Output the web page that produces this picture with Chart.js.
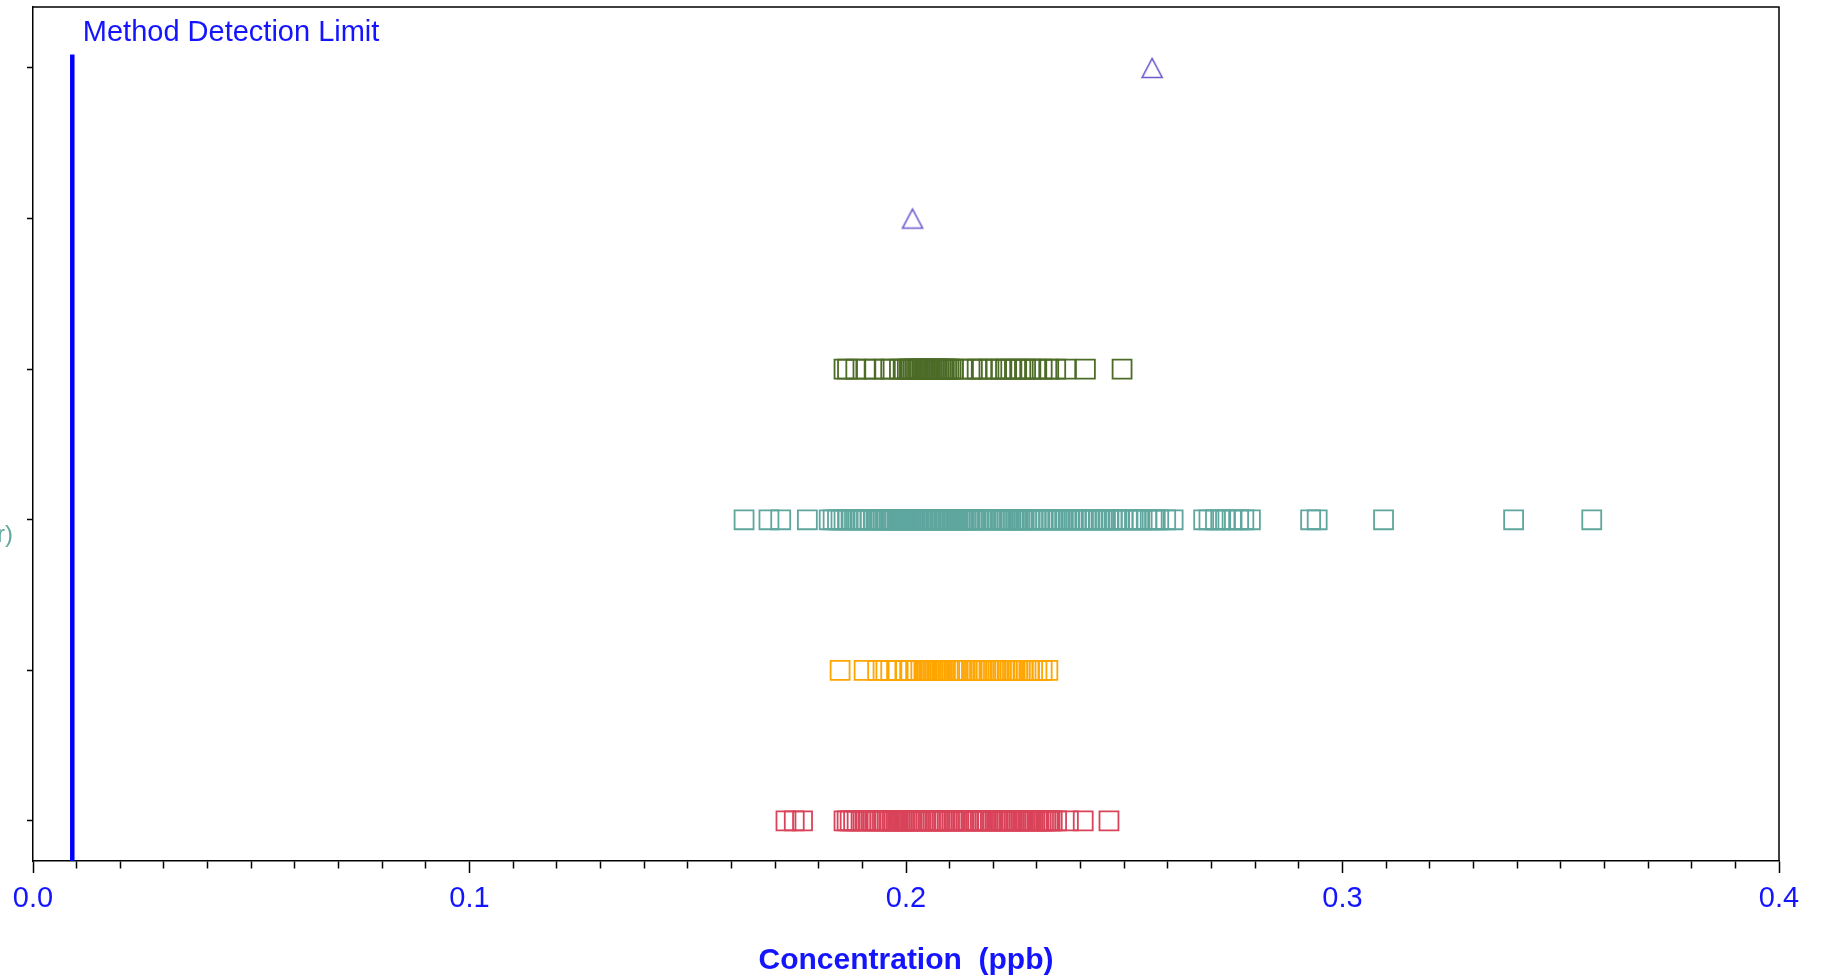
<!DOCTYPE html>
<html>
<head>
<meta charset="utf-8">
<script src="https://cdn.jsdelivr.net/npm/chart.js@4.4.1/dist/chart.umd.min.js"></script>
<style>
html,body{margin:0;padding:0;background:#fff;}
#wrap{width:1826px;height:980px;}
</style>
</head>
<body>
<div id="wrap"><canvas id="c" width="1826" height="980"></canvas></div>
<script>
// ---------------- data ----------------
const xTickLabels = ["0.0", "0.1", "0.2", "0.3", "0.4"];
const xAxisTitle = "Concentration  (ppb)";
const mdlLabel = "Method Detection Limit";
const mdlValues = [0.009];
const cutLabel = "r)";

// row positions (bottom = 1)
const rowLevels = [1, 2, 3, 4, 5, 6];

const redValues = [
  0.1725, 0.1744, 0.1763,
  0.1858, 0.1865, 0.1872, 0.1880, 0.1888, 0.1897, 0.1906, 0.1913, 0.1920, 0.1928,
  0.1934, 0.1940, 0.1946, 0.1951, 0.1957, 0.1962, 0.1968, 0.1973, 0.1978, 0.1982,
  0.1987, 0.1992, 0.1997, 0.2003, 0.2008, 0.2013, 0.2018, 0.2023, 0.2029, 0.2034,
  0.2040, 0.2045, 0.2051, 0.2056, 0.2062, 0.2068, 0.2073, 0.2077, 0.2082, 0.2088,
  0.2094, 0.2099, 0.2105, 0.2110, 0.2116, 0.2121, 0.2127, 0.2133, 0.2138, 0.2143,
  0.2150, 0.2156, 0.2164, 0.2170, 0.2175, 0.2181, 0.2187, 0.2193, 0.2198, 0.2204,
  0.2210, 0.2216, 0.2221, 0.2227, 0.2232, 0.2238, 0.2243, 0.2248, 0.2252, 0.2258,
  0.2263, 0.2268, 0.2273, 0.2279, 0.2285, 0.2290, 0.2295, 0.2300, 0.2305, 0.2310,
  0.2315, 0.2320, 0.2325, 0.2330, 0.2335, 0.2345, 0.2372, 0.2406, 0.2465
];

const orangeValues = [
  0.1849, 0.1904, 0.1935, 0.1954, 0.1965, 0.1982, 0.1999, 0.2011, 0.2022, 0.2034,
  0.2041, 0.2045, 0.2049, 0.2053, 0.2057, 0.2061, 0.2066, 0.2070, 0.2074, 0.2078,
  0.2082, 0.2086, 0.2090, 0.2100, 0.2110, 0.2118, 0.2125, 0.2133, 0.2140, 0.2150,
  0.2157, 0.2163, 0.2172, 0.2178, 0.2183, 0.2190, 0.2195, 0.2205, 0.2211, 0.2217,
  0.2226, 0.2232, 0.2238, 0.2244, 0.2250, 0.2256, 0.2262, 0.2268, 0.2275, 0.2283,
  0.2290, 0.2300, 0.2312, 0.2325
];

const tealValues = [
  0.1629, 0.1686, 0.1713, 0.1774,
  0.1824, 0.1833, 0.1843, 0.1851, 0.1858, 0.1866, 0.1874, 0.1882, 0.1890, 0.1897,
  0.1904, 0.1911, 0.1918, 0.1925, 0.1931, 0.1937, 0.1943, 0.1948, 0.1953, 0.1957,
  0.1962, 0.1966, 0.1971, 0.1975, 0.1980, 0.1984, 0.1989, 0.1993, 0.1998, 0.2002,
  0.2007, 0.2011, 0.2016, 0.2020, 0.2025, 0.2029, 0.2034, 0.2038, 0.2043, 0.2047,
  0.2052, 0.2056, 0.2061, 0.2065, 0.2070, 0.2074, 0.2079, 0.2083, 0.2088, 0.2092,
  0.2097, 0.2101, 0.2106, 0.2110, 0.2115, 0.2119, 0.2124, 0.2128, 0.2133, 0.2137,
  0.2142, 0.2146, 0.2151, 0.2155, 0.2161, 0.2167, 0.2174, 0.2181, 0.2188, 0.2195,
  0.2202, 0.2209, 0.2215, 0.2221, 0.2226, 0.2231, 0.2236, 0.2241, 0.2246, 0.2251,
  0.2256, 0.2261, 0.2266, 0.2271, 0.2277, 0.2283, 0.2290, 0.2297, 0.2304, 0.2312,
  0.2320, 0.2328, 0.2335, 0.2342, 0.2350, 0.2358, 0.2366, 0.2374, 0.2381, 0.2389,
  0.2397, 0.2404, 0.2412, 0.2419, 0.2427, 0.2434, 0.2442, 0.2450, 0.2457, 0.2465,
  0.2472, 0.2480, 0.2488, 0.2497, 0.2507, 0.2516, 0.2526, 0.2533, 0.2541, 0.2552,
  0.2564, 0.2571, 0.2579, 0.2595, 0.2612,
  0.2682, 0.2694, 0.2709, 0.2721, 0.2732, 0.2747, 0.2762, 0.2774, 0.2789,
  0.2927, 0.2942, 0.3094, 0.3392, 0.3571
];

const greenValues = [
  0.1858, 0.1866, 0.1885, 0.1908, 0.1927, 0.1950, 0.1965, 0.1985, 0.1996, 0.2003,
  0.2008, 0.2012, 0.2016, 0.2020, 0.2024, 0.2028, 0.2032, 0.2036, 0.2040, 0.2044,
  0.2048, 0.2052, 0.2056, 0.2060, 0.2064, 0.2068, 0.2072, 0.2076, 0.2080, 0.2084,
  0.2088, 0.2093, 0.2098, 0.2103, 0.2108, 0.2129, 0.2152, 0.2163, 0.2175, 0.2190,
  0.2205, 0.2217, 0.2228, 0.2240, 0.2251, 0.2263, 0.2274, 0.2286, 0.2297, 0.2312,
  0.2327, 0.2343, 0.2366, 0.2411,
  0.2495
];

const triangleLowValues = [0.2015];
const triangleHighValues = [0.2564];

// ---------------- layout / style ----------------
const FONT = '"Liberation Sans", Arial, Helvetica, sans-serif';
const BLUE = '#1414ff';
const TEAL = '#5ea69e';
const Y_MIN = 0.734, Y_MAX = 6.405;
const MDL_TOP = 6.09;
const MARK_BW = 1.8;

function pts(values, row) { return values.map(v => ({ x: v, y: row })); }
function squareSet(values, row, color) {
  return {
    type: 'scatter', data: pts(values, row),
    pointStyle: 'rect', pointRadius: 13.4, pointHoverRadius: 13.4,
    pointBorderWidth: MARK_BW, borderColor: color, pointBorderColor: color,
    backgroundColor: 'rgba(0,0,0,0)', pointBackgroundColor: 'rgba(0,0,0,0)'
  };
}
// hollow triangle glyph whose bounding box is centred on the point
function triangleGlyph(color) {
  const c = document.createElement('canvas');
  c.width = 26; c.height = 24;
  const g = c.getContext('2d');
  g.strokeStyle = color;
  g.lineWidth = 1.6;
  g.lineJoin = 'miter';
  g.beginPath();
  g.moveTo(13, 2.5);
  g.lineTo(23, 21.5);
  g.lineTo(3, 21.5);
  g.closePath();
  g.stroke();
  return c;
}
function triSet(values, row, color) {
  return {
    type: 'scatter', data: pts(values, row),
    pointStyle: triangleGlyph(color), pointRadius: 12, pointHoverRadius: 12,
    borderColor: color, backgroundColor: 'rgba(0,0,0,0)'
  };
}

const minorTickValues = Array.from({ length: 41 }, (_, i) => i / 100);

const decorPlugin = {
  id: 'decor',
  afterDraw(chart) {
    const { ctx, chartArea: a, scales } = chart;
    ctx.save();
    ctx.strokeStyle = '#000';
    ctx.lineWidth = 1.5;
    ctx.beginPath();
    ctx.moveTo(a.left, a.top);
    ctx.lineTo(a.right, a.top);
    ctx.lineTo(a.right, a.bottom);
    ctx.stroke();

    ctx.font = '29px ' + FONT;
    ctx.fillStyle = BLUE;
    ctx.textBaseline = 'alphabetic';
    ctx.textAlign = 'left';
    ctx.fillText(mdlLabel, scales.x.getPixelForValue(mdlValues[0]) + 10.5, 41);

    ctx.font = '24px ' + FONT;
    ctx.fillStyle = TEAL;
    ctx.textAlign = 'right';
    ctx.fillText(cutLabel, 13, 542);
    ctx.restore();
  }
};

new Chart(document.getElementById('c'), {
  data: {
    datasets: [
      {
        type: 'line',
        data: [{ x: mdlValues[0], y: Y_MIN }, { x: mdlValues[0], y: MDL_TOP }],
        borderColor: '#0000ff', borderWidth: 4.5, pointRadius: 0, fill: false
      },
      squareSet(redValues, rowLevels[0], '#d9435a'),
      squareSet(orangeValues, rowLevels[1], '#ffa500'),
      squareSet(tealValues, rowLevels[2], TEAL),
      squareSet(greenValues, rowLevels[3], '#4c6b27'),
      triSet(triangleLowValues, rowLevels[4], '#6a5acd'),
      triSet(triangleHighValues, rowLevels[5], '#6a5acd')
    ]
  },
  options: {
    responsive: false,
    animation: false,
    events: [],
    layout: { autoPadding: false, padding: { left: 0, right: 47, top: 7, bottom: 0 } },
    plugins: { legend: { display: false }, tooltip: { enabled: false } },
    scales: {
      x: {
        type: 'linear', position: 'bottom', min: 0, max: 0.4,
        afterFit: s => { s.height = 119; },
        afterBuildTicks: s => { s.ticks = minorTickValues.map(v => ({ value: v })); },
        grid: {
          drawOnChartArea: false, drawTicks: true, tickLength: 12,
          tickColor: '#000', tickWidth: 1.5,
          tickBorderDash: c => (c.index % 10 === 0 ? [] : [7, 40])
        },
        border: { display: true, color: '#000', width: 1.5 },
        ticks: {
          autoSkip: false, maxRotation: 0, minRotation: 0, padding: 9,
          color: BLUE, font: { size: 29, family: FONT },
          callback: (v, i) => (i % 10 === 0 ? xTickLabels[i / 10] : '')
        },
        title: {
          display: true, text: xAxisTitle, color: BLUE,
          font: { size: 30, weight: 'bold', family: FONT },
          padding: { top: 0, bottom: 1 }
        }
      },
      y: {
        type: 'linear', position: 'left', min: Y_MIN, max: Y_MAX,
        afterFit: s => { s.width = 33; },
        afterBuildTicks: s => { s.ticks = rowLevels.map(v => ({ value: v })); },
        grid: { drawOnChartArea: false, drawTicks: true, tickLength: 6, tickColor: '#000', tickWidth: 1.5 },
        border: { display: true, color: '#000', width: 1.5 },
        ticks: { display: false }
      }
    }
  },
  plugins: [decorPlugin]
});
</script>
</body>
</html>
